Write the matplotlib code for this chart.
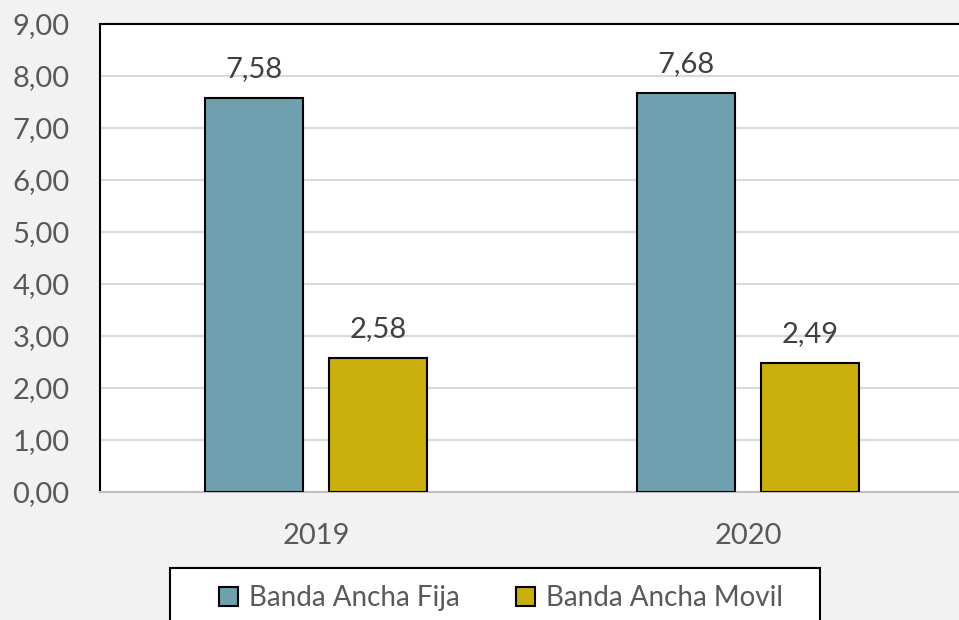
import matplotlib.pyplot as plt
import numpy as np
from matplotlib.patches import Rectangle

years = ['2019', '2020']
fija = [7.58, 7.68]
movil = [2.58, 2.49]
labels = ['Banda Ancha Fija', 'Banda Ancha Movil']

plt.rcParams['font.family'] = ['Lato', 'DejaVu Sans']
txt = '#595959'
fs = 21

fig = plt.figure(figsize=(9.59, 6.2), dpi=100, facecolor='#f2f2f2')
ax = fig.add_axes([100 / 959, 128 / 620, 864 / 959, 468 / 620])
ax.set_facecolor('white')

x = np.arange(len(years))
w = 0.225
off = 0.1435
b1 = ax.bar(x - off, fija, w, color='#6FA0AF', edgecolor='black', linewidth=1.5,
            label=labels[0], zorder=3)
b2 = ax.bar(x + off, movil, w, color='#C9AE0C', edgecolor='black', linewidth=1.5,
            label=labels[1], zorder=3)

for bars in (b1, b2):
    for r in bars:
        v = r.get_height()
        ax.text(r.get_x() + r.get_width() / 2, v + 0.3, f'{v:.2f}'.replace('.', ','),
                ha='center', va='bottom', fontsize=fs, color='#404040')

ax.set_xlim(-0.5, 1.5)
ax.set_ylim(0, 9)
ax.set_yticks(np.arange(0, 10, 1))
ax.set_yticklabels([f'{v:.2f}'.replace('.', ',') for v in np.arange(0, 10, 1)])
ax.set_xticks(x)
ax.set_xticklabels(years)
ax.tick_params(axis='both', length=0, labelsize=fs, colors=txt)
ax.tick_params(axis='x', pad=22)
ax.tick_params(axis='y', pad=22)
ax.grid(axis='y', color='#d9d9d9', linewidth=1.5, zorder=0)

ax.spines['left'].set_color('black')
ax.spines['left'].set_linewidth(1.5)
ax.spines['top'].set_color('black')
ax.spines['top'].set_linewidth(1.5)
ax.spines['right'].set_visible(False)
ax.spines['bottom'].set_color('#bfbfbf')
ax.spines['bottom'].set_linewidth(1.5)

# legend box
fig.patches.append(Rectangle((170 / 959, -0.05), 650 / 959, 0.05 + 52 / 620,
                             transform=fig.transFigure, facecolor='white',
                             edgecolor='black', linewidth=1.5))
leg = fig.legend(handles=[b1, b2], loc='center', bbox_to_anchor=(501 / 959, 22 / 620),
                 ncol=2, frameon=False, fontsize=20, handlelength=0.7,
                 handleheight=0.7, handletextpad=0.4, columnspacing=2.0)
for t in leg.get_texts():
    t.set_color(txt)

fig.savefig('out.png', dpi=100, facecolor=fig.get_facecolor())
